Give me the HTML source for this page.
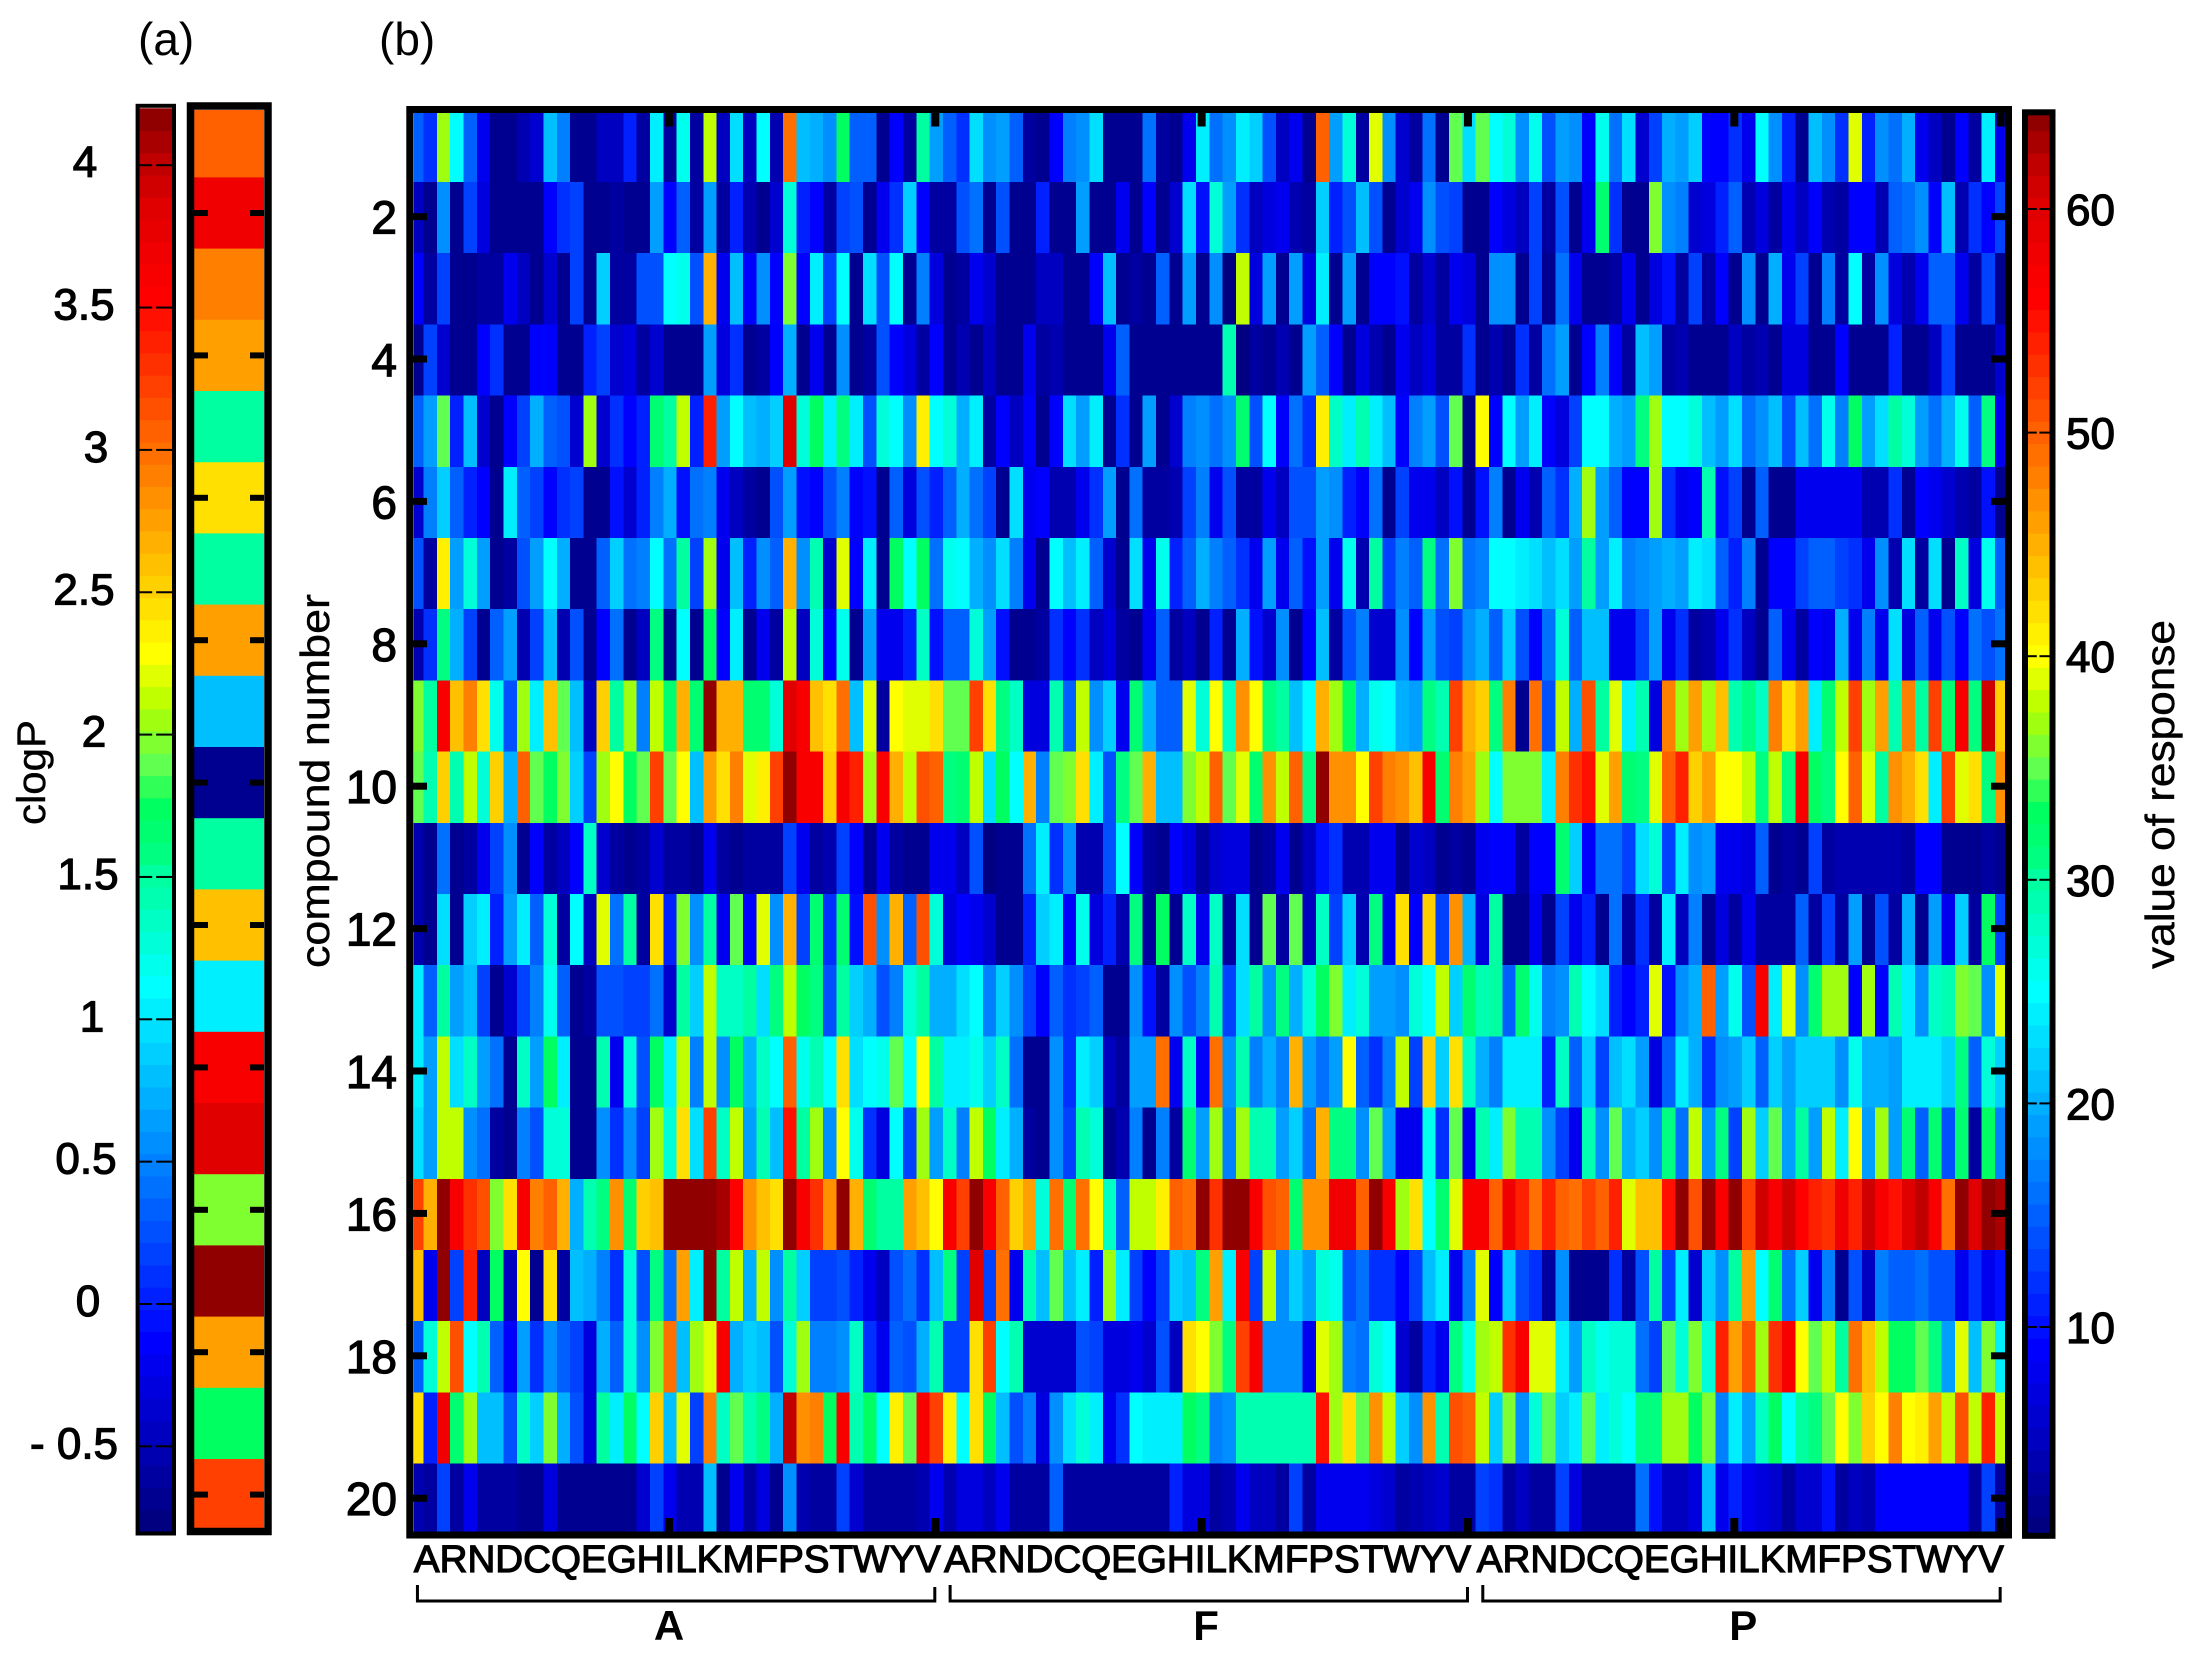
<!DOCTYPE html>
<html lang="en">
<head>
<meta charset="utf-8">
<title>clogP and response heatmap</title>
<style>
html,body{margin:0;padding:0;background:#fff;}
svg{display:block;}
text{font-family:"Liberation Sans",sans-serif;fill:#000;}
.num{stroke:#000;stroke-width:1.2px;}
.title{stroke:#000;stroke-width:.4px;}
</style>
</head>
<body>
<svg id="chart" xmlns="http://www.w3.org/2000/svg" width="2193" height="1655" viewBox="0 0 2193 1655">
<rect x="0" y="0" width="2193" height="1655" fill="#fff"/>
<defs>
<clipPath id="heat-clip"><rect x="413.6" y="113" width="1591.4" height="1418.5"/></clipPath>
<clipPath id="strip-clip"><rect x="194" y="110" width="70" height="1418"/></clipPath>
<clipPath id="clog-clip"><rect x="139" y="107" width="33" height="1425"/></clipPath>
<clipPath id="resp-clip"><rect x="2028" y="115" width="22" height="1418"/></clipPath>
</defs>
<g id="clog-bar" clip-path="url(#clog-clip)"></g>
<g id="clog-strip" clip-path="url(#strip-clip)"></g>
<g id="heat" clip-path="url(#heat-clip)" shape-rendering="crispEdges"></g>
<g id="resp-bar" clip-path="url(#resp-clip)"></g>
<g id="overlay"></g>
<rect x="137.6" y="105.8" width="36.4" height="1427.7" fill="none" stroke="#000" stroke-width="4"/>
<rect x="190.5" y="106" width="77.5" height="1425.5" fill="none" stroke="#000" stroke-width="7.5"/>
<rect x="409.8" y="109.5" width="1598.7" height="1425.5" fill="none" stroke="#000" stroke-width="7"/>
<rect x="2025" y="112.3" width="27.5" height="1423.5" fill="none" stroke="#000" stroke-width="6"/>
<text x="138" y="55" font-size="46">(a)</text>
<text x="379" y="55" font-size="46">(b)</text>
<text class="title" transform="translate(45,825) rotate(-90)" font-size="40" textLength="105" lengthAdjust="spacingAndGlyphs">clogP</text>
<text class="title" transform="translate(329,968) rotate(-90)" font-size="41" textLength="374" lengthAdjust="spacingAndGlyphs">compound number</text>
<text class="title" transform="translate(2174,969) rotate(-90)" font-size="41" textLength="349" lengthAdjust="spacingAndGlyphs">value of response</text>
</svg>
<script>
const residues = "ARNDCQEGHILKMFPSTWYV";
const groups = ["A","F","P"];
const compoundTicks = [2,4,6,8,10,12,14,16,18,20];
const responseTicks = [10,20,30,40,50,60];
const clogTicks = [-0.5,0,0.5,1,1.5,2,2.5,3,3.5,4];
const clogTickLabels = ["- 0.5","0","0.5","1","1.5","2","2.5","3","3.5","4"];
const clogValues = [3.07,3.69,2.91,2.75,1.50,2.44,1.50,2.75,0.80,-0.68,1.50,2.60,1.04,3.61,3.85,1.97,4.16,2.75,1.74,3.22];

const row01 = [15,12,37,25,15,8,2,2,4,6,21,17,2,2,5,5,11,3,24,3,26,3,38,5,23,5,25,4,49,21,20,18,33,15,15,2,9,3,30,19,15,12,23,18,19,15,3,2,9,17,18,23,2,2,2,16,3,2,8,24,16,18,24,22,14,5,8,2,50,19,27,3,39,18,6,3,16,2,35,23,35,25,27,18,26,14,19,18,9,26,16,23,6,13,20,19,22,9,9,12,8,25,18,11,2,21,18,12,39,11,18,16,20,8,5,2,9,3,24,8];
const row02 = [5,2,18,2,13,7,2,2,2,2,9,12,13,2,2,3,2,2,19,9,15,3,19,3,11,4,2,6,27,11,9,3,13,14,2,8,12,22,9,3,3,14,16,2,14,2,2,11,2,2,19,2,2,8,2,9,2,6,23,10,27,19,12,5,7,8,4,3,22,11,14,21,14,2,6,8,18,14,13,2,2,9,7,5,13,3,14,2,8,32,12,2,2,36,18,17,6,7,11,15,4,7,3,8,5,9,4,3,9,9,4,15,16,18,9,21,4,12,9,13];
const row03 = [9,3,13,2,2,3,3,8,5,2,6,2,13,2,22,3,3,14,14,25,26,14,45,8,21,9,18,9,36,9,24,13,25,2,23,14,25,2,17,7,2,3,8,6,2,2,2,5,5,2,2,9,21,2,3,2,15,2,19,2,18,1,38,7,19,2,19,7,24,2,19,2,9,9,10,3,6,3,8,7,2,18,18,2,13,2,16,8,2,2,3,8,2,7,10,3,13,3,9,2,18,2,20,8,13,2,17,3,25,3,18,7,4,8,15,15,8,3,13,2];
const row04 = [2,13,6,2,2,9,12,2,2,9,9,2,2,11,13,6,7,3,6,2,2,2,19,7,12,2,3,9,20,2,8,2,18,2,3,14,9,7,3,9,2,4,2,5,2,2,8,3,4,2,2,2,8,15,2,2,2,2,2,2,2,29,1,3,2,4,2,19,15,9,2,7,4,2,8,5,7,3,3,12,2,4,2,12,3,16,19,2,9,17,9,3,21,19,3,4,2,2,2,5,3,4,2,7,7,2,2,9,2,2,2,11,2,2,5,13,2,2,2,6];
const row05 = [15,19,35,11,21,6,2,9,13,20,15,14,6,37,6,12,9,11,32,30,38,11,54,19,25,21,20,22,60,27,33,24,31,24,14,27,25,18,41,25,27,20,24,3,9,5,9,2,9,23,19,24,2,12,2,19,2,6,17,18,16,18,32,14,25,9,16,12,41,28,24,29,24,21,9,17,19,14,35,2,40,9,25,19,24,9,7,13,25,25,20,19,31,37,25,25,27,21,19,23,16,18,21,14,21,16,26,17,33,19,23,30,27,19,16,20,26,15,31,8];
const row06 = [6,17,22,15,11,9,2,24,15,13,9,12,13,2,2,10,6,11,17,20,10,16,17,8,5,3,2,14,19,10,9,14,17,9,10,2,15,7,14,11,15,20,16,13,2,23,8,9,4,4,8,12,19,2,16,3,3,4,13,17,8,14,3,3,8,5,14,14,19,18,11,9,16,2,13,8,8,5,10,2,10,17,2,8,4,15,12,20,37,19,15,9,9,37,12,8,9,29,10,13,2,15,2,2,8,8,8,8,8,4,4,12,2,9,8,6,4,3,10,2];
const row07 = [14,3,41,19,27,19,2,3,14,19,25,20,2,2,15,22,16,17,25,16,30,13,37,8,21,11,18,15,45,18,29,6,39,9,24,2,33,25,33,16,26,25,20,18,23,17,8,2,25,21,24,15,6,2,23,8,26,11,15,20,17,15,12,8,19,8,15,10,19,8,26,4,30,13,17,15,31,16,36,16,17,25,25,24,23,21,23,19,30,19,24,17,18,19,20,19,24,23,15,11,17,2,9,9,13,15,15,13,12,8,18,4,23,3,23,2,28,7,26,15];
const row08 = [4,12,31,20,13,2,15,19,4,13,21,4,14,2,9,16,2,5,31,2,25,2,33,9,24,2,8,3,38,5,27,9,26,2,19,8,8,11,28,10,15,15,27,19,10,2,2,3,12,9,12,5,7,3,2,8,15,3,5,2,11,2,20,10,6,18,2,9,21,3,14,17,6,6,18,9,19,14,13,18,20,15,22,14,9,16,27,15,21,21,8,8,13,19,8,12,3,4,8,12,5,2,15,8,3,9,8,20,8,17,8,23,7,15,8,14,9,16,14,16];
const row09 = [36,30,57,44,48,42,26,14,37,24,44,35,21,5,43,30,37,17,38,32,45,32,64,45,45,32,32,27,60,57,44,42,49,21,39,3,40,39,39,42,35,35,52,42,31,28,7,7,29,15,38,18,22,8,32,20,15,15,39,27,40,28,47,40,31,30,21,25,45,37,33,20,26,25,20,19,31,29,52,45,43,31,48,2,49,14,38,20,51,30,39,24,29,7,48,37,46,37,44,29,31,28,48,42,46,24,32,38,52,37,46,29,48,30,52,32,57,31,61,43];
const row10 = [35,29,43,29,38,27,43,20,50,35,33,36,22,13,37,40,33,35,52,35,40,21,46,42,48,39,41,52,64,57,57,43,57,54,37,57,45,38,51,50,31,32,38,23,33,25,45,17,35,36,42,24,14,31,35,45,21,21,36,38,50,35,39,32,47,38,50,31,64,47,47,40,52,48,47,44,57,32,48,46,37,25,36,36,36,24,48,53,55,39,46,32,31,39,50,54,43,46,40,40,38,31,38,31,57,33,31,40,50,39,30,47,45,42,24,52,39,42,31,47];
const row11 = [4,2,16,2,3,8,13,18,2,9,3,5,9,28,6,3,2,3,6,3,3,2,8,3,2,3,3,3,13,8,3,4,13,9,2,8,3,2,2,8,8,5,14,1,2,2,16,24,12,18,4,4,14,25,9,3,2,9,7,3,6,7,7,2,3,8,2,5,10,12,4,4,8,8,2,6,5,2,3,2,8,9,9,3,9,9,32,22,9,16,16,13,23,27,13,24,18,19,8,8,7,15,2,3,2,13,3,4,4,4,4,4,3,9,9,2,2,2,3,2];
const row12 = [4,2,23,2,22,24,11,19,24,15,27,3,25,5,39,16,30,3,42,11,36,18,30,8,35,9,39,18,45,13,32,12,32,10,51,18,45,15,51,27,7,9,8,6,2,2,11,22,24,9,26,7,11,4,31,3,33,2,28,8,28,3,23,2,35,3,35,5,28,13,22,4,31,8,42,9,43,13,47,20,7,30,2,2,8,2,13,8,11,2,16,3,12,3,24,5,17,2,7,3,8,3,3,3,15,3,13,3,19,2,14,3,20,2,19,8,22,3,33,13];
const row13 = [24,15,30,19,21,13,2,6,13,17,26,15,2,3,14,14,13,13,16,6,30,22,38,28,28,30,23,31,38,33,31,14,30,22,20,14,17,27,30,20,20,23,25,17,22,18,13,9,15,12,13,15,2,2,18,10,3,18,14,17,29,13,23,30,18,31,20,27,33,36,24,27,19,19,18,27,25,38,22,32,29,30,15,32,26,17,18,29,25,23,11,9,11,39,10,18,20,50,19,26,14,57,24,39,18,32,37,37,9,37,9,29,24,18,28,29,36,35,18,39];
const row14 = [24,19,38,23,28,19,16,2,28,19,33,24,2,2,29,8,27,14,33,24,38,17,38,18,33,20,28,25,50,26,29,25,42,23,25,26,35,25,40,30,24,24,26,22,28,16,2,2,18,12,24,22,5,3,19,19,49,8,28,9,49,18,29,17,20,17,45,19,16,19,40,15,12,17,38,13,43,22,42,28,20,17,24,24,24,11,28,15,22,13,21,23,19,7,15,24,20,12,18,19,22,15,22,19,22,22,22,18,26,20,20,19,24,24,24,22,31,15,27,22];
const row15 = [23,19,38,38,18,16,3,2,17,14,27,27,2,2,18,12,18,13,37,27,42,23,52,28,38,19,29,21,55,30,37,18,40,26,12,7,25,13,37,19,28,17,38,33,24,20,3,2,18,13,29,27,2,4,17,2,17,3,32,19,37,17,37,29,29,19,22,16,45,31,31,18,35,19,8,8,26,12,35,8,29,24,36,29,29,18,13,8,29,18,35,20,22,18,31,16,38,18,31,13,37,22,35,19,30,19,38,24,40,19,37,19,32,15,32,14,32,3,33,17];
const row16 = [52,45,64,57,53,51,36,42,57,48,50,45,20,29,31,47,32,43,44,64,64,64,64,63,56,47,44,42,64,57,53,47,64,45,32,30,30,46,44,40,57,52,64,57,50,43,46,27,49,32,49,40,28,15,38,38,41,50,49,64,53,64,64,57,51,50,32,47,47,58,58,50,64,57,37,42,25,32,39,57,57,50,58,54,49,54,50,49,52,50,54,39,44,44,55,64,51,64,57,64,52,61,57,61,56,54,53,58,54,61,57,55,60,62,57,49,64,60,64,63];
const row17 = [44,8,64,13,54,5,33,5,40,2,42,3,21,20,17,12,27,14,31,16,46,24,64,30,38,20,38,18,30,22,13,13,14,11,8,5,14,16,12,21,31,13,60,13,49,8,29,21,35,21,24,11,37,24,13,9,13,22,21,31,46,24,57,13,38,18,22,19,27,26,14,16,12,12,9,13,21,24,8,17,39,9,22,14,12,3,18,2,2,2,12,3,14,30,13,24,6,22,18,30,46,25,32,16,22,8,17,2,14,5,17,15,15,16,14,14,8,12,8,10];
const row18 = [15,27,38,51,25,29,15,9,19,12,18,15,13,7,20,15,27,18,36,49,21,37,39,57,20,22,21,14,27,37,17,17,18,28,12,8,15,14,20,29,13,13,42,52,25,29,6,6,6,6,14,13,7,7,8,6,14,5,42,40,36,31,52,57,18,18,18,8,39,37,17,16,27,25,6,3,11,8,31,26,37,38,53,57,39,39,24,19,28,26,27,27,16,13,35,27,36,27,54,46,51,37,53,57,40,35,38,30,49,44,38,33,33,35,31,19,39,21,36,24];
const row19 = [42,11,58,32,37,21,21,14,28,22,36,20,14,7,30,24,33,25,43,21,39,13,48,28,35,29,31,20,62,47,48,33,57,29,33,25,41,35,57,52,41,25,42,33,21,14,17,7,18,23,27,24,8,12,25,24,24,24,33,31,17,18,29,29,29,29,29,29,55,37,42,35,47,38,22,18,47,29,51,50,38,22,36,18,27,35,22,24,35,24,27,25,31,31,37,37,33,36,17,24,19,28,33,25,30,31,35,40,36,43,40,48,40,41,46,38,51,38,54,38];
const row20 = [4,3,13,3,8,3,3,3,2,2,7,2,2,2,2,2,2,6,13,8,4,4,21,2,8,3,7,2,18,4,3,3,13,6,3,3,3,3,4,8,4,7,7,5,8,3,3,3,15,3,3,3,3,3,3,3,3,11,7,7,3,4,8,5,5,3,13,3,8,8,8,8,7,6,3,4,5,6,3,3,13,12,3,5,3,3,13,7,3,3,3,3,16,10,5,5,7,21,8,11,8,7,6,3,6,6,10,3,5,4,9,9,9,9,9,9,9,3,13,3];
const rows = [row01,row02,row03,row04,row05,row06,row07,row08,row09,row10,row11,row12,row13,row14,row15,row16,row17,row18,row19,row20];

/* colour ramp of the figure: level, hex */
const rampLevels = [1,9,25,27,29,30,31,33,35,36,37,38,40,42,44,46,48,50,52,54,56,58,60,62,64];
const rampColors = ["000080","0000ff","00ffff","00ffd8","00ffb0","00ffa0","00ff80","00ff60","60ff50","80ff30","a0ff10","c0ff00","ffff00","ffe000","ffc000","ffa000","ff8000","ff6000","ff4000","ff2000","ff0000","f00000","e00000","c00000","900000"];

function colorFor(v){
  const t = Math.max(1, Math.min(64, Math.round(v)));
  let i = 0;
  while (i < rampLevels.length - 2 && t > rampLevels[i + 1]) i++;
  const f = (t - rampLevels[i]) / (rampLevels[i + 1] - rampLevels[i]);
  const a = rampColors[i], b = rampColors[i + 1];
  let out = "#";
  for (let k = 0; k < 6; k += 2) {
    const c0 = parseInt(a.substr(k, 2), 16), c1 = parseInt(b.substr(k, 2), 16);
    out += Math.round(c0 + (c1 - c0) * f).toString(16).padStart(2, "0");
  }
  return out;
}

/* axis functions */
const cellW = 13.317;
function xCol(c){ return 423.6 + (c - 1.5) * cellW; }
function yRow(r){ return 217.6 + (r - 2) * 71.2; }
function yStrip(r){ return 213 + (r - 2) * 71.2; }
function yResp(v){ return 1327 - (v - 10) * 22.36; }
function yClog(c){ return 1304 - c * 284.7; }
function clogToLevel(c){ return 0.5 + (c + 0.8) * 12.8; }
function levelToClog(v){ return (v - 0.5) / 12.8 - 0.8; }

const NS = "http://www.w3.org/2000/svg";
function make(parent, tag, attrs, txt){
  const el = document.createElementNS(NS, tag);
  for (const k in attrs) el.setAttribute(k, attrs[k]);
  if (txt !== undefined) el.textContent = txt;
  parent.appendChild(el);
  return el;
}

const heat = document.getElementById("heat");
const clogBar = document.getElementById("clog-bar");
const clogStrip = document.getElementById("clog-strip");
const respBar = document.getElementById("resp-bar");
const ov = document.getElementById("overlay");

rows.forEach(function(row, ri){
  row.forEach(function(val, ci){
    const el = make(heat, "rect", {x: (xCol(ci + 1) - cellW / 2).toFixed(2), y: (yRow(ri + 0.5)).toFixed(2), width: (cellW + 0.4).toFixed(2), height: "71.6", fill: colorFor(val)});
    
    
  });
});

clogValues.forEach(function(c, i){
  const el = make(clogStrip, "rect", {x: 194, y: yStrip(i + 0.5).toFixed(2), width: 70, height: "71.6", fill: colorFor(clogToLevel(c))});
  
  
});

for (let v = 1; v <= 64; v++) {
  const r = make(respBar, "rect", {x: 2028, y: yResp(v + 0.5).toFixed(2), width: 22, height: "22.8", fill: colorFor(v)});
  
  
  const top = yClog(levelToClog(v + 0.5));
  const c = make(clogBar, "rect", {x: 139, y: top.toFixed(2), width: 33, height: "22.8", fill: colorFor(v)});
  
  
}

/* heatmap ticks */
compoundTicks.forEach(function(r){
  const y = yRow(r) - 1;
  const a = make(ov, "rect", {x: 413, y: y - 3.5, width: 14, height: 7, fill: "#000"});
  
  
  const b = make(ov, "rect", {x: 1991, y: y - 3.5, width: 14, height: 7, fill: "#000"});
  
  
  const t = make(ov, "text", {x: 397, y: y + 17, "font-size": 46, "text-anchor": "end", "class": "num"}, String(r));
  
  
  const s1 = make(ov, "rect", {x: 194, y: yStrip(r) - 3, width: 14, height: 6, fill: "#000"});
  
  
  const s2 = make(ov, "rect", {x: 250, y: yStrip(r) - 3, width: 14, height: 6, fill: "#000"});
  
  
});

for (let k = 20; k <= 120; k += 20) {
  const x = xCol(k) - 1;
  const a = make(ov, "rect", {x: x - 4, y: 113, width: 8, height: 13.5, fill: "#000"});
  
  
  const b = make(ov, "rect", {x: x - 4, y: 1518, width: 8, height: 13.5, fill: "#000"});
  
  
}

/* residue labels and group brackets */
groups.forEach(function(g, i){
  const start = xCol(i * 40 + 1) - 3 - (i ? 2.5 : 0);
  const t = make(ov, "text", {x: start.toFixed(1), y: 1572, "font-size": 38, "class": "num", textLength: 527, lengthAdjust: "spacingAndGlyphs"}, residues);
  
  
  const x0 = xCol(i * 40 + 1) + 0.5;
  const x1 = xCol(i * 40 + 40) - 1.5;
  const p = make(ov, "path", {d: "M" + x0 + " 1585V1601H" + x1 + "V1587", fill: "none", stroke: "#000", "stroke-width": 3});
  
  
  const cx = xCol(i * 40 + 20) - 1 + i * 4.5;
  const l = make(ov, "text", {x: cx.toFixed(1), y: 1640, "font-size": 42, "font-weight": "bold", "text-anchor": "middle"}, g);
  
  
});

/* colourbar ticks: thin dashes with a small gap */
function barTick(x0, x1, y, name){
  const a = make(ov, "rect", {x: x0, y: y - 1, width: (x1 - x0) * 0.4, height: 2, fill: "#000"});
  
  
  const b = make(ov, "rect", {x: x0 + (x1 - x0) * 0.52, y: y - 1, width: (x1 - x0) * 0.48, height: 2, fill: "#000"});
  
  
}

responseTicks.forEach(function(v){
  const y = yResp(v);
  barTick(2028, 2050, y, 'response-colorbar-tick');
  const t = make(ov, "text", {x: 2066, y: y + 16, "font-size": 44, "class": "num"}, String(v));
  
  
});

/* label placement nudges, same order as clogTicks */
const clogLabelNudges = [-14,0,-2,4,0,6,-4,8,-4,-3];
clogTicks.forEach(function(c, i){
  const y = yClog(c);
  barTick(139, 172, y, 'clogp-colorbar-tick');
  const t = make(ov, "text", {x: 88 + clogLabelNudges[i], y: y + 12, "font-size": 44, "text-anchor": "middle", "class": "num"}, clogTickLabels[i]);
  
  
});
</script>
</body>
</html>
